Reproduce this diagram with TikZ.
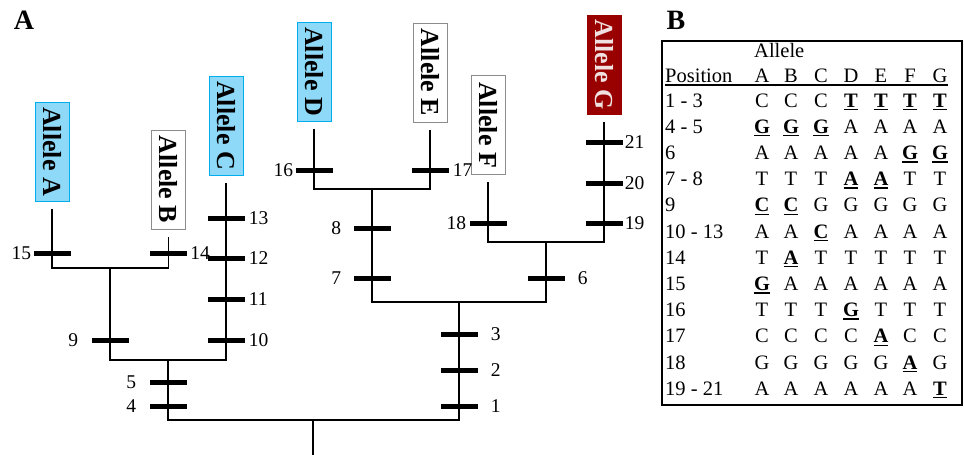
\documentclass[tikz,border=0pt]{standalone}
\usepackage{fontspec}
\setmainfont{Liberation Serif}
\definecolor{abfill}{HTML}{8ED8F8}
\definecolor{abdraw}{HTML}{00AEEF}
\definecolor{gfill}{HTML}{990000}
\definecolor{gtext}{HTML}{F0E0E0}
\definecolor{wdraw}{HTML}{8C8C8C}
\newcommand\myul[1]{\setbox0\hbox{\bfseries #1}\rlap{\rule[-3.2pt]{\wd0}{1.4pt}}\box0}
\begin{document}
\begin{tikzpicture}[x=1pt,y=-1pt,
  allele/.style={rotate=-90, minimum width=99pt, minimum height=34pt, inner sep=0pt,
    font=\fontsize{26}{30}\selectfont\bfseries, line width=1pt},
  blueal/.style={allele, fill=abfill, draw=abdraw},
  whiteal/.style={allele, fill=white, draw=wdraw},
  redal/.style={allele, fill=gfill, draw=gfill, text=gtext},
  branch/.style={line width=1.2pt},
  tick/.style={fill=black, inner sep=0pt, minimum width=37pt, minimum height=5pt},
  lab/.style={font=\fontsize{19.5}{22}\selectfont, inner sep=0pt},
  tt/.style={font=\fontsize{20.5}{24}\selectfont, inner sep=0pt},
  panel/.style={font=\fontsize{28}{32}\selectfont\bfseries, inner sep=0pt}]
\useasboundingbox (0,0) rectangle (964,455);

% panel labels
\node[panel] (pA) at (24,20) {A};
\node[panel] (pB) at (676,20) {B};

% allele boxes
\node[blueal]  (alA) at (52,151.5) {Allele A};
\node[whiteal] (alB) at (168.5,179.5) {Allele B};
\node[blueal]  (alC) at (226,125.5) {Allele C};
\node[blueal]  (alD) at (314,71.5) {Allele D};
\node[whiteal] (alE) at (430,72.5) {Allele E};
\node[whiteal] (alF) at (488,125) {Allele F};
\node[redal]   (alG) at (604,64.5) {Allele G};

% junction coordinates
\coordinate (cA) at (52,268);
\coordinate (cB) at (168.5,268);
\coordinate (mAB) at (110,268);
\coordinate (jL) at (110,360);
\coordinate (cC) at (226,360);
\coordinate (mL) at (168,360);
\coordinate (jR0) at (168,420);
\coordinate (cR) at (459,420);
\coordinate (rtop) at (313,420);
\coordinate (root) at (313,455);
\coordinate (m3) at (459,302);
\coordinate (cDE) at (372,302);
\coordinate (cFG) at (546,302);
\coordinate (mDE) at (372,189);
\coordinate (cD) at (314,189);
\coordinate (cE) at (430,189);
\coordinate (mFG) at (546,242);
\coordinate (cF) at (488,242);
\coordinate (cG) at (604,242);

% branches
\draw[branch, shorten <=7pt, shorten >=7pt] (alA) -- (cA) -- (cB) -- (alB);
\draw[branch, shorten >=7pt] (mAB) -- (jL) -- (cC) -- (alC);
\draw[branch] (mL) -- (jR0) -- (cR) -- (m3);
\draw[branch] (rtop) -- (root);
\draw[branch] (mDE) -- (cDE) -- (cFG) -- (mFG);
\draw[branch, shorten <=7pt, shorten >=7pt] (alD) -- (cD) -- (cE) -- (alE);
\draw[branch, shorten <=7pt, shorten >=7pt] (alF) -- (cF) -- (cG) -- (alG);

% mutation ticks
\node[tick, label={[lab,label distance=2pt]left:15}]  (t15) at (52,253) {};
\node[tick, label={[lab,label distance=3pt]right:14}] (t14) at (168.5,253) {};
\node[tick, label={[lab,label distance=13pt]left:9}]  (t9)  at (110,340) {};
\node[tick, label={[lab,label distance=4pt]right:13}] (t13) at (226,218) {};
\node[tick, label={[lab,label distance=4pt]right:12}] (t12) at (226,258) {};
\node[tick, label={[lab,label distance=4pt]right:11}] (t11) at (226,299) {};
\node[tick, label={[lab,label distance=4pt]right:10}] (t10) at (226,340) {};
\node[tick, label={[lab,label distance=13pt]left:5}]  (t5)  at (168,382) {};
\node[tick, label={[lab,label distance=13pt]left:4}]  (t4)  at (168,406) {};
\node[tick, label={[lab,label distance=2pt]left:16}]  (t16) at (314,170) {};
\node[tick, label={[lab,label distance=4pt]right:17}] (t17) at (430,170) {};
\node[tick, label={[lab,label distance=12pt]left:8}]  (t8)  at (372,228) {};
\node[tick, label={[lab,label distance=12pt]left:7}]  (t7)  at (372,278) {};
\node[tick, label={[lab,label distance=3pt]left:18}]  (t18) at (488,223) {};
\node[tick, label={[lab,label distance=2pt]right:21}] (t21) at (604,142) {};
\node[tick, label={[lab,label distance=2pt]right:20}] (t20) at (604,183) {};
\node[tick, label={[lab,label distance=2pt]right:19}] (t19) at (604,223) {};
\node[tick, label={[lab,label distance=13pt]right:6}] (t6)  at (546,278) {};
\node[tick, label={[lab,label distance=13pt]right:3}] (t3)  at (459,334) {};
\node[tick, label={[lab,label distance=13pt]right:2}] (t2)  at (459,370) {};
\node[tick, label={[lab,label distance=13pt]right:1}] (t1)  at (459,406) {};

% table
\draw[line width=1.3pt] (662,41) rectangle (962,405);
\node[tt, anchor=base west] (hAl) at (754,57) {Allele};
\node[tt, anchor=base west] (hPos) at (665,82) {Position};
\foreach \h/\xx [count=\j] in {A/762,B/791,C/821,D/851,E/881,F/910,G/940}
  \node[tt, anchor=base] (h\j) at (\xx,82) {\h};
\draw[line width=1.1pt] (665,85) -- (948,85);
\foreach \rl/\ca/\cb/\cc/\cd/\ce/\cf/\cg [count=\i from 0] in {
  1 - 3/C/C/C/\myul{T}/\myul{T}/\myul{T}/\myul{T},
  4 - 5/\myul{G}/\myul{G}/\myul{G}/A/A/A/A,
  6/A/A/A/A/A/\myul{G}/\myul{G},
  7 - 8/T/T/T/\myul{A}/\myul{A}/T/T,
  9/\myul{C}/\myul{C}/G/G/G/G/G,
  10 - 13/A/A/\myul{C}/A/A/A/A,
  14/T/\myul{A}/T/T/T/T/T,
  15/\myul{G}/A/A/A/A/A/A,
  16/T/T/T/\myul{G}/T/T/T,
  17/C/C/C/C/\myul{A}/C/C,
  18/G/G/G/G/G/\myul{A}/G,
  19 - 21/A/A/A/A/A/A/\myul{T}}
{
  \node[tt, anchor=base west] (row\i) at (665,{107+26.2*\i}) {\rl};
  \foreach \v/\xx [count=\j] in {\ca/762,\cb/791,\cc/821,\cd/851,\ce/881,\cf/910,\cg/940}
    \node[tt, anchor=base] (c\i-\j) at (\xx,{107+26.2*\i}) {\v};
}
\end{tikzpicture}
\end{document}
